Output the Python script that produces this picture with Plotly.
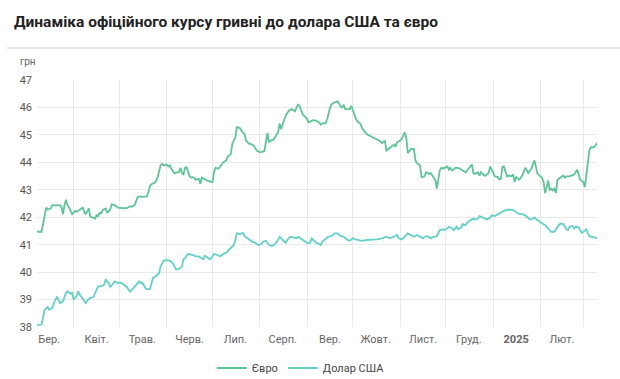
import plotly.graph_objects as go

euro_dates = [
    "2024-03-08", "2024-03-11", "2024-03-14", "2024-03-15", "2024-03-17", "2024-03-18", "2024-03-21",
    "2024-03-23", "2024-03-24", "2024-03-25", "2024-03-26", "2024-03-27", "2024-03-28", "2024-03-29",
    "2024-03-31", "2024-04-02", "2024-04-03", "2024-04-05", "2024-04-07", "2024-04-08", "2024-04-09",
    "2024-04-11", "2024-04-12", "2024-04-14", "2024-04-15", "2024-04-16", "2024-04-17", "2024-04-18",
    "2024-04-19", "2024-04-20", "2024-04-22", "2024-04-23", "2024-04-25", "2024-04-26", "2024-04-28",
    "2024-04-30", "2024-05-02", "2024-05-03", "2024-05-06", "2024-05-08", "2024-05-09", "2024-05-11",
    "2024-05-13", "2024-05-14", "2024-05-15", "2024-05-17", "2024-05-19", "2024-05-20", "2024-05-21",
    "2024-05-22", "2024-05-24", "2024-05-25", "2024-05-26", "2024-05-28", "2024-05-29", "2024-05-30",
    "2024-06-01", "2024-06-02", "2024-06-03", "2024-06-04", "2024-06-06", "2024-06-08", "2024-06-09",
    "2024-06-10", "2024-06-11", "2024-06-12", "2024-06-13", "2024-06-14", "2024-06-15", "2024-06-16",
    "2024-06-17", "2024-06-18", "2024-06-19", "2024-06-20", "2024-06-22", "2024-06-23", "2024-06-24",
    "2024-06-26", "2024-06-28", "2024-07-01", "2024-07-02", "2024-07-03", "2024-07-05", "2024-07-06",
    "2024-07-08", "2024-07-10", "2024-07-11", "2024-07-13", "2024-07-14", "2024-07-16", "2024-07-17",
    "2024-07-19", "2024-07-20", "2024-07-22", "2024-07-23", "2024-07-25", "2024-07-26", "2024-07-28",
    "2024-07-30", "2024-08-01", "2024-08-02", "2024-08-04", "2024-08-05", "2024-08-06", "2024-08-07",
    "2024-08-08", "2024-08-10", "2024-08-13", "2024-08-14", "2024-08-15", "2024-08-16", "2024-08-18",
    "2024-08-20", "2024-08-22", "2024-08-24", "2024-08-25", "2024-08-26", "2024-08-27", "2024-08-29",
    "2024-08-30", "2024-09-01", "2024-09-02", "2024-09-04", "2024-09-05", "2024-09-07", "2024-09-09",
    "2024-09-10", "2024-09-11", "2024-09-13", "2024-09-14", "2024-09-16", "2024-09-17", "2024-09-19",
    "2024-09-21", "2024-09-22", "2024-09-23", "2024-09-24", "2024-09-25", "2024-09-26", "2024-09-28",
    "2024-09-29", "2024-09-30", "2024-10-02", "2024-10-03", "2024-10-04", "2024-10-06", "2024-10-07",
    "2024-10-09", "2024-10-10", "2024-10-12", "2024-10-14", "2024-10-17", "2024-10-19", "2024-10-20",
    "2024-10-22", "2024-10-23", "2024-10-25", "2024-10-26", "2024-10-28", "2024-10-29", "2024-10-30",
    "2024-11-01", "2024-11-02", "2024-11-04", "2024-11-05", "2024-11-06", "2024-11-08", "2024-11-09",
    "2024-11-10", "2024-11-11", "2024-11-12", "2024-11-14", "2024-11-15", "2024-11-17", "2024-11-18",
    "2024-11-20", "2024-11-21", "2024-11-23", "2024-11-24", "2024-11-25", "2024-11-26", "2024-11-27",
    "2024-11-28", "2024-11-29", "2024-12-02", "2024-12-03", "2024-12-04", "2024-12-05", "2024-12-06",
    "2024-12-07", "2024-12-09", "2024-12-10", "2024-12-12", "2024-12-14", "2024-12-15", "2024-12-17",
    "2024-12-18", "2024-12-19", "2024-12-20", "2024-12-22", "2024-12-23", "2024-12-24", "2024-12-26",
    "2024-12-27", "2024-12-29", "2024-12-30", "2024-12-31", "2025-01-02", "2025-01-04", "2025-01-05",
    "2025-01-06", "2025-01-07", "2025-01-08", "2025-01-10", "2025-01-11", "2025-01-13", "2025-01-14",
    "2025-01-15", "2025-01-16", "2025-01-18", "2025-01-19", "2025-01-20", "2025-01-22", "2025-01-23",
    "2025-01-24", "2025-01-26", "2025-01-27", "2025-01-28", "2025-01-30", "2025-01-31", "2025-02-01",
    "2025-02-02", "2025-02-03", "2025-02-04", "2025-02-05", "2025-02-06", "2025-02-07", "2025-02-08",
    "2025-02-09", "2025-02-10", "2025-02-11", "2025-02-12", "2025-02-13", "2025-02-14", "2025-02-15",
    "2025-02-16", "2025-02-17", "2025-02-18", "2025-02-20", "2025-02-21", "2025-02-23", "2025-02-25",
    "2025-02-26", "2025-02-27", "2025-03-01", "2025-03-02", "2025-03-03", "2025-03-04", "2025-03-05",
    "2025-03-06", "2025-03-08", "2025-03-09", "2025-03-10",
]
euro_values = [
    41.47, 41.47, 42.35, 42.28, 42.32, 42.44, 42.43,
    42.44, 42.38, 42.11, 42.44, 42.64, 42.44, 42.35,
    42.11, 42.23, 42.20, 42.28, 42.35, 42.20, 42.11,
    42.32, 42.01, 41.99, 41.95, 42.07, 42.04, 42.16,
    42.14, 42.26, 42.32, 42.16, 42.29, 42.47, 42.44,
    42.35, 42.32, 42.33, 42.33, 42.40, 42.38, 42.44,
    42.74, 42.76, 42.74, 42.76, 42.76, 42.92, 43.13,
    43.20, 43.25, 43.32, 43.44, 43.89, 43.95, 43.89,
    43.92, 43.85, 43.89, 43.77, 43.60, 43.64, 43.64,
    43.80, 43.61, 43.56, 43.80, 43.83, 43.64, 43.49,
    43.44, 43.46, 43.44, 43.37, 43.40, 43.22, 43.44,
    43.37, 43.32, 43.28, 43.64, 43.80, 43.77, 43.85,
    44.00, 44.07, 44.21, 44.30, 44.67, 44.91, 45.28,
    45.25, 45.15, 45.03, 44.79, 44.67, 44.67, 44.61,
    44.43, 44.37, 44.37, 44.41, 44.67, 45.06, 44.73,
    44.79, 44.82, 45.09, 45.42, 45.21, 45.40, 45.70,
    45.88, 45.94, 45.86, 46.00, 46.10, 46.06, 45.76,
    45.70, 45.58, 45.46, 45.52, 45.54, 45.52, 45.45,
    45.37, 45.42, 45.42, 45.54, 45.98, 46.12, 46.18,
    46.22, 46.14, 46.02, 46.00, 46.10, 45.94, 45.94,
    45.94, 46.06, 45.73, 45.58, 45.49, 45.40, 45.25,
    45.09, 45.03, 44.97, 44.91, 44.82, 44.77, 44.70,
    44.79, 44.43, 44.53, 44.55, 44.65, 44.57, 44.73,
    44.79, 44.85, 45.09, 44.91, 44.33, 44.49, 44.49,
    44.49, 44.07, 43.97, 43.89, 43.46, 43.49, 43.64,
    43.58, 43.61, 43.44, 43.37, 43.04, 43.46, 43.71,
    43.80, 43.77, 43.85, 43.73, 43.80, 43.71, 43.73,
    43.80, 43.80, 43.77, 43.73, 43.64, 43.71, 43.83,
    43.92, 43.61, 43.58, 43.64, 43.52, 43.64, 43.52,
    43.52, 43.61, 43.85, 43.73, 43.49, 43.46, 43.37,
    43.40, 43.83, 43.85, 43.49, 43.52, 43.49, 43.56,
    43.28, 43.46, 43.37, 43.44, 43.52, 43.80, 43.71,
    43.61, 43.77, 43.92, 44.07, 43.58, 43.52, 43.49,
    43.44, 43.28, 42.88, 43.08, 43.34, 43.00, 43.04,
    42.98, 43.04, 42.88, 43.34, 43.40, 43.44, 43.49,
    43.52, 43.44, 43.49, 43.49, 43.52, 43.56, 43.73,
    43.56, 43.37, 43.28, 43.10, 43.52, 44.07, 44.45,
    44.55, 44.55, 44.62, 44.70,
]

usd_dates = [
    "2024-03-08", "2024-03-11", "2024-03-13", "2024-03-15", "2024-03-16", "2024-03-18", "2024-03-19",
    "2024-03-21", "2024-03-22", "2024-03-23", "2024-03-25", "2024-03-27", "2024-03-28", "2024-03-30",
    "2024-03-31", "2024-04-01", "2024-04-03", "2024-04-04", "2024-04-05", "2024-04-07", "2024-04-09",
    "2024-04-10", "2024-04-12", "2024-04-14", "2024-04-16", "2024-04-17", "2024-04-19", "2024-04-21",
    "2024-04-22", "2024-04-24", "2024-04-25", "2024-04-27", "2024-04-28", "2024-04-30", "2024-05-02",
    "2024-05-04", "2024-05-06", "2024-05-08", "2024-05-10", "2024-05-12", "2024-05-14", "2024-05-15",
    "2024-05-16", "2024-05-18", "2024-05-19", "2024-05-21", "2024-05-22", "2024-05-23", "2024-05-25",
    "2024-05-27", "2024-05-28", "2024-05-30", "2024-06-01", "2024-06-03", "2024-06-05", "2024-06-07",
    "2024-06-09", "2024-06-11", "2024-06-12", "2024-06-13", "2024-06-14", "2024-06-15", "2024-06-18",
    "2024-06-20", "2024-06-22", "2024-06-23", "2024-06-25", "2024-06-26", "2024-06-27", "2024-06-29",
    "2024-06-30", "2024-07-02", "2024-07-04", "2024-07-06", "2024-07-08", "2024-07-10", "2024-07-12",
    "2024-07-13", "2024-07-15", "2024-07-16", "2024-07-17", "2024-07-19", "2024-07-21", "2024-07-22",
    "2024-07-24", "2024-07-25", "2024-07-27", "2024-07-29", "2024-07-31", "2024-08-02", "2024-08-03",
    "2024-08-05", "2024-08-07", "2024-08-09", "2024-08-11", "2024-08-13", "2024-08-14", "2024-08-16",
    "2024-08-18", "2024-08-19", "2024-08-21", "2024-08-23", "2024-08-25", "2024-08-26", "2024-08-28",
    "2024-08-29", "2024-08-31", "2024-09-01", "2024-09-03", "2024-09-04", "2024-09-06", "2024-09-07",
    "2024-09-09", "2024-09-10", "2024-09-11", "2024-09-13", "2024-09-15", "2024-09-17", "2024-09-19",
    "2024-09-21", "2024-09-23", "2024-09-25", "2024-09-27", "2024-09-29", "2024-10-01", "2024-10-04",
    "2024-10-07", "2024-10-10", "2024-10-13", "2024-10-17", "2024-10-20", "2024-10-23", "2024-10-24",
    "2024-10-25", "2024-10-28", "2024-10-30", "2024-10-31", "2024-11-02", "2024-11-04", "2024-11-06",
    "2024-11-08", "2024-11-10", "2024-11-12", "2024-11-14", "2024-11-16", "2024-11-17", "2024-11-19",
    "2024-11-21", "2024-11-22", "2024-11-24", "2024-11-25", "2024-11-27", "2024-11-29", "2024-11-30",
    "2024-12-02", "2024-12-03", "2024-12-05", "2024-12-06", "2024-12-08", "2024-12-09", "2024-12-11",
    "2024-12-12", "2024-12-14", "2024-12-15", "2024-12-17", "2024-12-19", "2024-12-20", "2024-12-22",
    "2024-12-23", "2024-12-25", "2024-12-27", "2024-12-28", "2024-12-30", "2024-12-31", "2025-01-02",
    "2025-01-04", "2025-01-06", "2025-01-08", "2025-01-11", "2025-01-12", "2025-01-14", "2025-01-15",
    "2025-01-17", "2025-01-19", "2025-01-20", "2025-01-22", "2025-01-23", "2025-01-25", "2025-01-27",
    "2025-01-28", "2025-01-30", "2025-02-01", "2025-02-02", "2025-02-04", "2025-02-05", "2025-02-07",
    "2025-02-08", "2025-02-10", "2025-02-11", "2025-02-13", "2025-02-14", "2025-02-16", "2025-02-17",
    "2025-02-18", "2025-02-19", "2025-02-20", "2025-02-22", "2025-02-23", "2025-02-24", "2025-02-26",
    "2025-02-27", "2025-02-28", "2025-03-02", "2025-03-03", "2025-03-04", "2025-03-05", "2025-03-08",
    "2025-03-10",
]
usd_values = [
    38.07, 38.09, 38.63, 38.73, 38.63, 38.69, 38.87,
    39.09, 39.02, 38.87, 38.93, 39.24, 39.30, 39.21,
    39.26, 38.99, 39.14, 39.30, 39.18, 39.02, 38.87,
    38.97, 39.06, 39.09, 39.36, 39.48, 39.48, 39.54,
    39.72, 39.60, 39.45, 39.62, 39.66, 39.60, 39.62,
    39.54, 39.45, 39.28, 39.42, 39.54, 39.66, 39.60,
    39.62, 39.42, 39.38, 39.38, 39.54, 39.78, 39.86,
    39.96, 40.20, 40.42, 40.44, 40.42, 40.32, 40.11,
    40.11, 40.20, 40.47, 40.50, 40.59, 40.66, 40.63,
    40.57, 40.57, 40.54, 40.47, 40.59, 40.57, 40.47,
    40.50, 40.66, 40.63, 40.57, 40.66, 40.71, 40.81,
    40.87, 40.99, 41.17, 41.41, 41.39, 41.43, 41.31,
    41.23, 41.17, 41.11, 41.07, 40.99, 41.02, 41.11,
    41.14, 40.99, 40.95, 41.02, 41.19, 41.29, 41.17,
    41.07, 41.17, 41.29, 41.27, 41.23, 41.29, 41.23,
    41.17, 41.11, 41.05, 41.07, 41.23, 41.11, 41.07,
    41.02, 40.99, 41.11, 41.19, 41.29, 41.31, 41.41,
    41.41, 41.31, 41.29, 41.19, 41.14, 41.23, 41.17,
    41.14, 41.17, 41.17, 41.19, 41.23, 41.29, 41.27,
    41.23, 41.29, 41.35, 41.23, 41.19, 41.29, 41.41,
    41.35, 41.29, 41.35, 41.29, 41.23, 41.29, 41.31,
    41.23, 41.27, 41.29, 41.31, 41.53, 41.56, 41.53,
    41.63, 41.65, 41.59, 41.53, 41.65, 41.56, 41.63,
    41.75, 41.71, 41.80, 41.89, 41.95, 41.92, 41.95,
    42.04, 41.99, 41.95, 41.92, 41.99, 42.07, 42.04,
    42.11, 42.16, 42.23, 42.28, 42.28, 42.26, 42.23,
    42.14, 42.11, 42.11, 42.07, 42.01, 41.92, 41.95,
    41.99, 41.89, 41.83, 41.77, 41.71, 41.65, 41.50,
    41.47, 41.47, 41.56, 41.71, 41.77, 41.75, 41.65,
    41.56, 41.53, 41.65, 41.68, 41.59, 41.65, 41.63,
    41.53, 41.43, 41.51, 41.56, 41.41, 41.31, 41.27,
    41.23,
]

month_label_dates = [
    "2024-03-16", "2024-04-16", "2024-05-16", "2024-06-16", "2024-07-16", "2024-08-16",
    "2024-09-16", "2024-10-16", "2024-11-16", "2024-12-16", "2025-01-16", "2025-02-15",
]
month_labels = [
    "Бер.", "Квіт.", "Трав.", "Черв.", "Лип.", "Серп.",
    "Вер.", "Жовт.", "Лист.", "Груд.", "<b>2025</b>", "Лют.",
]
month_starts = [
    "2024-04-01", "2024-05-01", "2024-06-01", "2024-07-01", "2024-08-01", "2024-09-01",
    "2024-10-01", "2024-11-01", "2024-12-01", "2025-01-01", "2025-02-01", "2025-03-01",
]
y_ticks = [38, 39, 40, 41, 42, 43, 44, 45, 46, 47]

EURO_COLOR = "#5cc596"
USD_COLOR = "#63d0c9"
FONT = "Roboto, Arial, sans-serif"

fig = go.Figure()
fig.add_trace(go.Scatter(x=euro_dates, y=euro_values, mode="lines", name="Євро",
                         line=dict(color=EURO_COLOR, width=1.8)))
fig.add_trace(go.Scatter(x=usd_dates, y=usd_values, mode="lines", name="Долар США",
                         line=dict(color=USD_COLOR, width=1.8)))

fig.update_layout(
    width=620, height=379,
    margin=dict(l=37, r=23, t=80, b=52),
    paper_bgcolor="white", plot_bgcolor="white",
    font=dict(family=FONT, size=11, color="#666666"),
    title=dict(text="<b>Динаміка офіційного курсу гривні до долара США та євро</b>",
               x=14 / 620, xanchor="left", xref="container",
               y=1 - 22 / 379, yanchor="middle", yref="container",
               font=dict(family=FONT, size=15.5, color="#222222")),
    showlegend=True,
    legend=dict(orientation="h", x=0.485, xanchor="center", xref="container",
                y=1 - 368 / 379, yanchor="middle", yref="container",
                font=dict(family=FONT, size=11, color="#444444"),
                itemwidth=30, tracegroupgap=0),
    xaxis=dict(
        type="date",
        range=["2024-03-08", "2025-03-10"],
        tickmode="array", tickvals=month_label_dates, ticktext=month_labels,
        showgrid=False, zeroline=False, showline=False, ticks="",
        tickfont=dict(family=FONT, size=11, color="#666666"),
        ticklabelstandoff=4, automargin=False,
        minor=dict(tickmode="array", tickvals=month_starts, showgrid=True,
                   gridcolor="#e9e9e9", gridwidth=1, ticks=""),
        fixedrange=True,
    ),
    yaxis=dict(
        range=[38, 47],
        tickmode="array", tickvals=y_ticks,
        showgrid=True, gridcolor="#e9e9e9", gridwidth=1,
        zeroline=False, showline=False, ticks="",
        tickfont=dict(family=FONT, size=11, color="#555555"),
        ticklabelstandoff=4, automargin=False,
        fixedrange=True,
    ),
    shapes=[dict(type="line", xref="paper", yref="paper",
                 x0=-30 / 560, x1=584 / 560, y0=(327 - 48) / 247, y1=(327 - 48) / 247,
                 line=dict(color="#e6e6e6", width=2))],
    annotations=[dict(text="грн", xref="paper", yref="paper",
                      x=-19 / 560, y=(327 - 62) / 247, xanchor="left", yanchor="middle",
                      showarrow=False, font=dict(family=FONT, size=10, color="#666666"))],
)

fig.write_html(
    "out.html",
    config={"displayModeBar": False},
    post_script="document.body.style.margin='0';document.body.style.overflow='hidden';",
)
